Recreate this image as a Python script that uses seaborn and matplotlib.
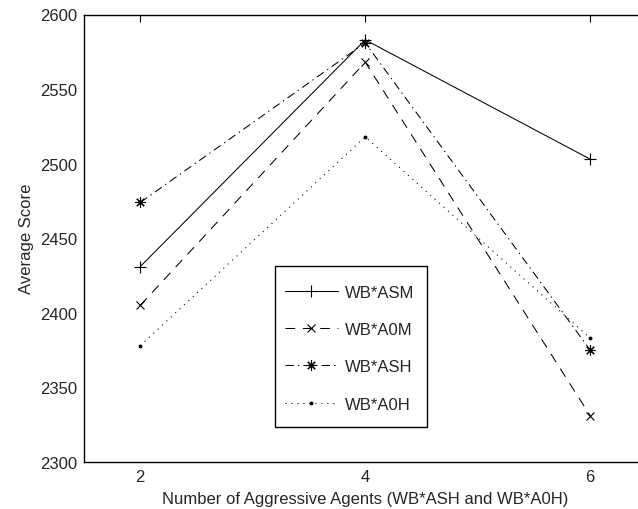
import numpy as np
import pandas as pd
import matplotlib
matplotlib.use("Agg")
import matplotlib.pyplot as plt
from matplotlib.patches import Rectangle
import seaborn as sns

# datos
agentes = [2, 4, 6]
wb_asm = [2431, 2583, 2503]
wb_a0m = [2405, 2568, 2331]
wb_ash = [2474, 2581, 2375]
wb_a0h = [2378, 2518, 2383]

series = ["WB*ASM", "WB*A0M", "WB*ASH", "WB*A0H"]
valores = [wb_asm, wb_a0m, wb_ash, wb_a0h]

sns.set_style("white")
plt.rcParams['font.family'] = ['Liberation Sans', 'DejaVu Sans']
plt.rcParams['font.size'] = 12
plt.rcParams['lines.scale_dashes'] = False

fig = plt.figure(figsize=(6.38, 5.10), dpi=100)
ax = fig.add_axes([84 / 638, 1 - 463 / 510, 562.5 / 638, 447.5 / 510])

estilos = {
    "WB*ASM": dict(linestyle='-', marker='+', markersize=8),
    "WB*A0M": dict(linestyle=(0, (7, 5.5)), marker='x', markersize=6),
    "WB*ASH": dict(linestyle=(0, (6, 3, 1, 3)), marker=(8, 2, 0), markersize=7.5),
    "WB*A0H": dict(linestyle=(0, (0.8, 3.5)), marker='.', markersize=4),
}

for nombre, vals in zip(series, valores):
    df = pd.DataFrame({"x": agentes, "y": vals})
    sns.lineplot(data=df, x="x", y="y", ax=ax, color='black', linewidth=0.75,
                 markeredgewidth=0.8, markerfacecolor='black', markeredgecolor='black',
                 label=nombre, **estilos[nombre])

ax.set_xlim(1.5, 6.5)
ax.set_ylim(2300, 2600)
ax.set_xticks([2, 4, 6])
ax.set_yticks(np.arange(2300, 2601, 50))
ax.tick_params(direction='in', length=5, width=0.8, top=True, right=True,
               labelsize=12, pad=5, color='black')
for s in ax.spines.values():
    s.set_color('black')
    s.set_linewidth(1.0)

ax.set_xlabel("Number of Aggressive Agents (WB*ASH and WB*A0H)", fontsize=12, labelpad=5)
ax.set_ylabel("Average Score", fontsize=12, labelpad=4)

# leyenda sin marco + caja dibujada aparte (estilo matlab)
leg = ax.legend(loc='upper left', bbox_to_anchor=(0.3573, 0.3966), borderaxespad=0,
                frameon=False, handlelength=3.17, handletextpad=0.42, borderpad=0,
                labelspacing=1.34, fontsize=12)
ax.add_patch(Rectangle((0.3396, 0.0782), 0.2702, 0.3598, transform=ax.transAxes,
                       fill=False, edgecolor='black', linewidth=1.0, zorder=5))

fig.savefig("out.png", dpi=100)
